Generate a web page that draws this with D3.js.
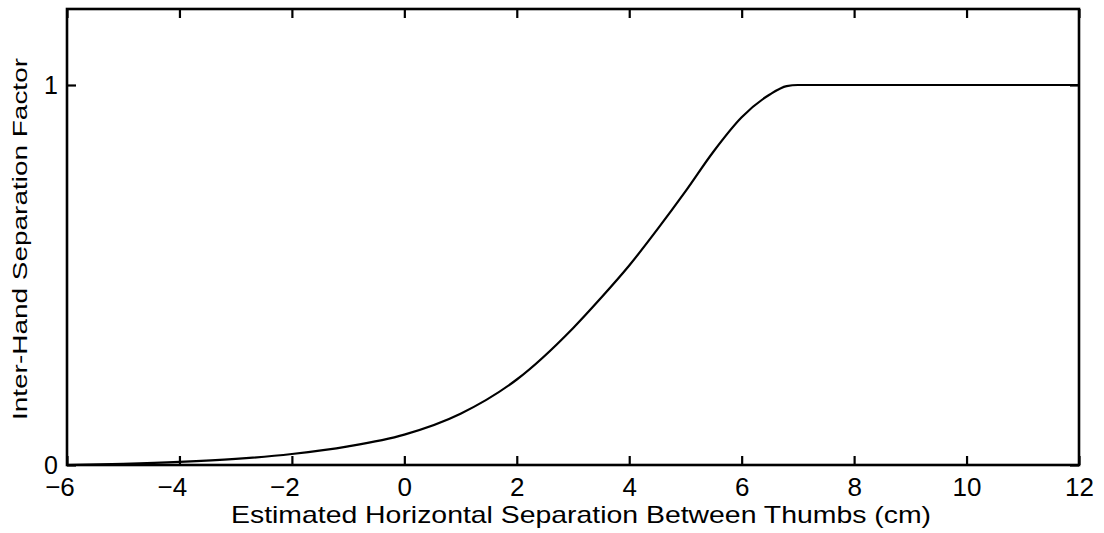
<!DOCTYPE html>
<html>
<head>
<meta charset="utf-8">
<script src="https://cdnjs.cloudflare.com/ajax/libs/d3/7.8.5/d3.min.js"></script>
<style>
	body { margin: 0; background: #fff; }
	svg { display: block; }
	.tick text { font-family: "Liberation Sans", Arial, sans-serif; fill: #000; }
</style>
</head>
<body>
<svg id="chart"></svg>
<script>
// separation (cm) and factor
const sepX = [-6, -5, -4, -3, -2, -1, 0, 1, 2, 3, 3.5, 4, 4.5, 5, 5.5, 6, 6.5, 6.8, 7, 8, 10, 12]
const factorY = [0, 0.003, 0.008, 0.016, 0.029, 0.049, 0.08, 0.135, 0.225, 0.36, 0.44, 0.525, 0.62, 0.72, 0.825, 0.915, 0.975, 0.997, 1, 1, 1, 1]
const xTicks = [-6, -4, -2, 0, 2, 4, 6, 8, 10, 12]
const yTicks = [0, 1]
const xLabel = 'Estimated Horizontal Separation Between Thumbs (cm)'
const yLabel = 'Inter-Hand Separation Factor'

const W = 1104, H = 533
const margin = { top: 9, right: 25, bottom: 68, left: 67 }
const width = W - margin.left - margin.right
const height = H - margin.top - margin.bottom

const svg = d3.select('#chart')
	.attr('width', W)
	.attr('height', H)
	.append('g')
	.attr('transform', 'translate(' + margin.left + ',' + margin.top + ')')

const x = d3.scaleLinear().domain([-6, 12]).range([0, width])
const y = d3.scaleLinear().domain([0, 1.2]).range([height, 0])

// ticks point inward on all four sides
const bottom = svg.append('g')
	.attr('transform', 'translate(0,' + height + ')')
	.call(d3.axisBottom(x).tickValues(xTicks).tickSizeInner(-9).tickSizeOuter(0).tickPadding(13))
bottom.selectAll('text')
	.attr('font-size', 26)
	.attr('dx', d => d < 0 ? '-0.29em' : null)

svg.append('g')
	.call(d3.axisTop(x).tickValues(xTicks).tickSizeInner(-9).tickSizeOuter(0).tickFormat(''))

const left = svg.append('g')
	.call(d3.axisLeft(y).tickValues(yTicks).tickFormat(d3.format('d')).tickSizeInner(-9).tickSizeOuter(0).tickPadding(9))
left.selectAll('text').attr('font-size', 25)

svg.append('g')
	.attr('transform', 'translate(' + width + ',0)')
	.call(d3.axisRight(y).tickValues(yTicks).tickSizeInner(-9).tickSizeOuter(0).tickFormat(''))

svg.selectAll('.domain').remove()
svg.selectAll('.tick line').attr('stroke', '#000').attr('stroke-width', 2.2)

// frame
svg.append('rect')
	.attr('width', width)
	.attr('height', height)
	.attr('fill', 'none')
	.attr('stroke', '#000')
	.attr('stroke-width', 2.6)

// curve
svg.append('path')
	.datum(sepX.map((d, i) => [d, factorY[i]]))
	.attr('fill', 'none')
	.attr('stroke', '#000')
	.attr('stroke-width', 2.2)
	.attr('d', d3.line()
		.x(d => x(d[0]))
		.y(d => y(d[1]))
		.curve(d3.curveMonotoneX)
	)

// axis titles
svg.append('text')
	.attr('x', width / 2 + 8)
	.attr('y', height + 58)
	.attr('text-anchor', 'middle')
	.attr('font-family', '"Liberation Sans", Arial, sans-serif')
	.attr('font-size', 24)
	.attr('textLength', 700)
	.attr('lengthAdjust', 'spacingAndGlyphs')
	.text(xLabel)

svg.append('text')
	.attr('transform', 'translate(' + (27 - margin.left) + ',' + (239 - margin.top) + ') rotate(-90)')
	.attr('text-anchor', 'middle')
	.attr('font-family', '"Liberation Sans", Arial, sans-serif')
	.attr('font-size', 21)
	.attr('textLength', 362)
	.attr('lengthAdjust', 'spacingAndGlyphs')
	.text(yLabel)
</script>
</body>
</html>
